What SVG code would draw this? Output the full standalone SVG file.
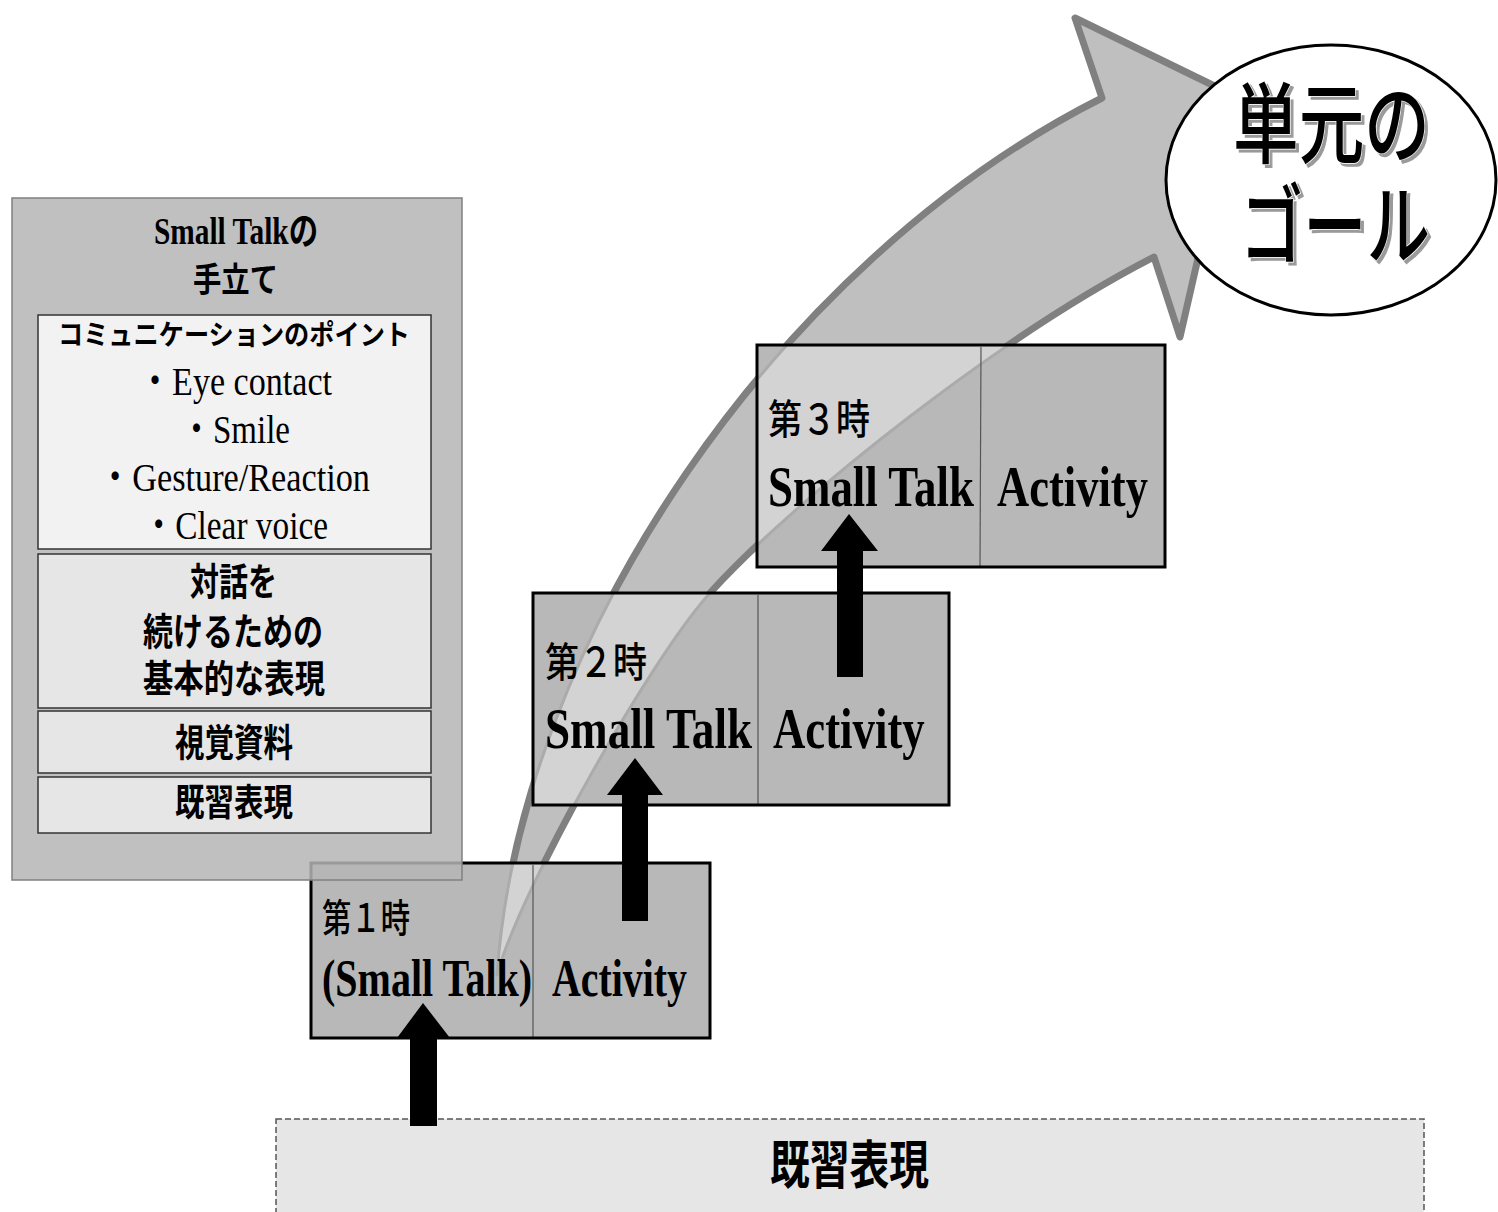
<svg xmlns="http://www.w3.org/2000/svg" width="1498" height="1212" viewBox="0 0 1498 1212">
<style>
.jp{font-family:"Noto Sans CJK JP","Noto Sans",sans-serif}
.ser{font-family:"Liberation Serif","Noto Sans CJK JP",serif}
.b{font-weight:bold}
.box{fill:#b8b8b8}
.bord{fill:none;stroke:#000;stroke-width:3}
.div{stroke:#555;stroke-width:1.2}
.big{fill:#bfbfbf;stroke:#808080;stroke-width:7;stroke-linejoin:round}
.ovl{fill:#d3d3d3;stroke:#ababab;stroke-width:3;stroke-linejoin:round}
.inner{stroke:#333;stroke-width:1.5}
.blk{fill:#000}
.goal{fill:#000;stroke:#fff;stroke-width:1.5;paint-order:stroke;filter:url(#sh)}
</style>
<defs>
<path id="arrowShape" d="M497,975 C520,640 780,260 1102,98 L1075,18 L1235,96 L1180,337 L1154,257 C1004,334 800,494 710,593 C650,659 520,890 497,975 Z"/>
<clipPath id="c1"><rect x="311" y="863" width="399" height="175"/></clipPath>
<clipPath id="c2"><rect x="533" y="593" width="416" height="212"/></clipPath>
<clipPath id="c3"><rect x="757" y="345" width="408" height="222"/></clipPath>
<filter id="sh" x="-20%" y="-20%" width="150%" height="150%">
<feOffset in="SourceAlpha" dx="3" dy="3" result="off"/>
<feFlood flood-color="#9a9a9a" result="col"/>
<feComposite in="col" in2="off" operator="in" result="shadow"/>
<feMerge><feMergeNode in="shadow"/><feMergeNode in="SourceGraphic"/></feMerge>
</filter>
</defs>

<g id="goal-arrow">
<use href="#arrowShape" class="big"/>
</g>

<g id="base-expressions">
<rect x="276" y="1119" width="1148" height="110" fill="#e6e6e6" stroke="#555" stroke-width="1.5" stroke-dasharray="6 3"/>
<text class="jp b" x="770" y="1184" font-size="52" textLength="159" lengthAdjust="spacingAndGlyphs">既習表現</text>
</g>

<g id="lesson1">
<rect class="box" x="311" y="863" width="399" height="175"/>
<use href="#arrowShape" class="ovl" clip-path="url(#c1)"/>
<line class="div" x1="533" y1="865" x2="533" y2="1037"/>
<text class="jp" font-weight="500" x="322" y="932" font-size="39" textLength="88" lengthAdjust="spacingAndGlyphs">第１時</text>
<text class="ser b" transform="translate(322 996) scale(0.74 1)" font-size="53" textLength="284" lengthAdjust="spacingAndGlyphs">(Small Talk)</text>
<text class="ser b" transform="translate(552 996) scale(0.75 1)" font-size="53" textLength="180" lengthAdjust="spacingAndGlyphs">Activity</text>
<rect class="bord" x="311" y="863" width="399" height="175"/>
</g>

<g id="lesson2">
<rect class="box" x="533" y="593" width="416" height="212"/>
<use href="#arrowShape" class="ovl" clip-path="url(#c2)"/>
<line class="div" x1="758" y1="595" x2="758" y2="804"/>
<text class="jp" font-weight="500" x="545" y="677" font-size="41" textLength="102" lengthAdjust="spacingAndGlyphs">第２時</text>
<text class="ser b" transform="translate(545 748) scale(0.77 1)" font-size="57" textLength="269" lengthAdjust="spacingAndGlyphs">Small Talk</text>
<text class="ser b" transform="translate(773 748) scale(0.79 1)" font-size="57" textLength="192" lengthAdjust="spacingAndGlyphs">Activity</text>
<rect class="bord" x="533" y="593" width="416" height="212"/>
</g>

<g id="lesson3">
<rect class="box" x="757" y="345" width="408" height="222"/>
<use href="#arrowShape" class="ovl" clip-path="url(#c3)"/>
<line class="div" x1="981" y1="347" x2="980" y2="566"/>
<text class="jp" font-weight="500" x="768" y="434" font-size="41" textLength="102" lengthAdjust="spacingAndGlyphs">第３時</text>
<text class="ser b" transform="translate(768 506) scale(0.76 1)" font-size="58" textLength="271" lengthAdjust="spacingAndGlyphs">Small Talk</text>
<text class="ser b" transform="translate(997 506) scale(0.77 1)" font-size="58" textLength="196" lengthAdjust="spacingAndGlyphs">Activity</text>
<rect class="bord" x="757" y="345" width="408" height="222"/>
</g>

<g id="connectors">
<polygon class="blk" points="410,1126 410,1038 397,1038 423,1003 450,1038 437,1038 437,1126"/>
<polygon class="blk" points="622,921 622,795 607,795 635,758 663,795 648,795 648,921"/>
<polygon class="blk" points="837,677 837,551 821,551 849,514 878,551 863,551 863,677"/>
</g>

<g id="support-panel">
<rect x="12" y="198" width="450" height="682" fill="#b5b5b5" fill-opacity="0.85" stroke="#808080" stroke-width="1.5"/>
<text class="ser b" x="154" y="244" font-size="38" textLength="164" lengthAdjust="spacingAndGlyphs">Small Talkの</text>
<text class="jp b" x="193" y="292" font-size="34" textLength="85" lengthAdjust="spacingAndGlyphs">手立て</text>
<g id="comm-points">
<rect class="inner" x="38" y="315" width="393" height="234" fill="#f2f2f2"/>
<text class="jp b" x="58" y="345" font-size="28" textLength="352" lengthAdjust="spacingAndGlyphs">コミュニケーションのポイント</text>
<text class="ser" x="138" y="395" font-size="40" textLength="194" lengthAdjust="spacingAndGlyphs">・Eye contact</text>
<text class="ser" x="180" y="443" font-size="40" textLength="110" lengthAdjust="spacingAndGlyphs">・Smile</text>
<text class="ser" x="98" y="491" font-size="40" textLength="272" lengthAdjust="spacingAndGlyphs">・Gesture/Reaction</text>
<text class="ser" x="142" y="539" font-size="40" textLength="186" lengthAdjust="spacingAndGlyphs">・Clear voice</text>
</g>
<g id="basic-expressions">
<rect class="inner" x="38" y="554" width="393" height="154" fill="#e6e6e6"/>
<text class="jp b" x="190" y="595" font-size="38" textLength="87" lengthAdjust="spacingAndGlyphs">対話を</text>
<text class="jp b" x="143" y="645" font-size="38" textLength="180" lengthAdjust="spacingAndGlyphs">続けるための</text>
<text class="jp b" x="143" y="692" font-size="38" textLength="182" lengthAdjust="spacingAndGlyphs">基本的な表現</text>
</g>
<g id="visual-materials">
<rect class="inner" x="38" y="711" width="393" height="62" fill="#e6e6e6"/>
<text class="jp b" x="175" y="756" font-size="38" textLength="118" lengthAdjust="spacingAndGlyphs">視覚資料</text>
</g>
<g id="learned-expressions">
<rect class="inner" x="38" y="777" width="393" height="56" fill="#e6e6e6"/>
<text class="jp b" x="175" y="816" font-size="37" textLength="118" lengthAdjust="spacingAndGlyphs">既習表現</text>
</g>
</g>

<g id="unit-goal">
<ellipse cx="1331" cy="180" rx="165" ry="135" fill="#fff" stroke="#000" stroke-width="3"/>
<text class="jp goal" font-weight="500" x="1233" y="156" font-size="88" textLength="197" lengthAdjust="spacingAndGlyphs">単元の</text>
<text class="jp goal" font-weight="500" x="1240" y="257" font-size="88" textLength="190" lengthAdjust="spacingAndGlyphs">ゴール</text>
</g>
</svg>
